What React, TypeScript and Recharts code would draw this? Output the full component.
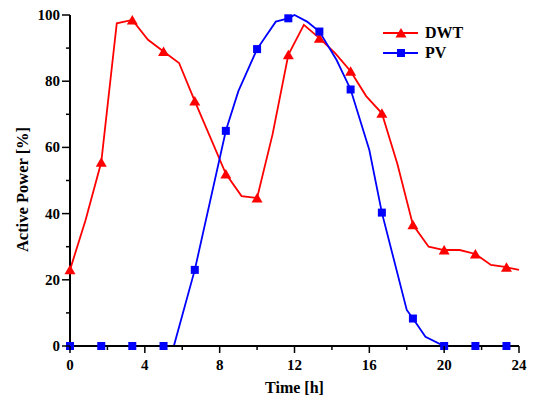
import React from 'react';
import { LineChart, Line, XAxis, YAxis, Legend } from 'recharts';

// DWT curve: hours and active power [%]
const dwtTime = [0, 0.83, 1.67, 2.5, 3.33, 4.17, 5, 5.83, 6.67, 7.5, 8.33, 9.17, 10, 10.83, 11.67, 12.5, 13.33, 14.17, 15, 15.83, 16.67, 17.5, 18.33, 19.17, 20, 20.83, 21.67, 22.5, 23.33, 24];
const dwtPower = [23, 38, 55.5, 97.5, 98.5, 92.5, 89, 85.5, 74, 63, 52, 45.3, 44.7, 64, 88, 97, 93, 88.5, 83, 75.5, 70.3, 55, 36.6, 30, 29, 29, 27.8, 24.5, 23.8, 23];

// PV curve
const pvTime = [0, 1.67, 3.33, 5, 5.55, 6.67, 8.33, 9, 10, 11, 11.67, 12, 12.67, 13.33, 14.25, 15, 16, 16.67, 18, 18.33, 19, 20, 21.67, 23.33, 24];
const pvPower = [0, 0, 0, 0, 0, 23, 65, 77, 89.7, 98, 99, 100, 98, 95, 86.4, 77.5, 59.2, 40.3, 10.9, 8.3, 2.8, 0, 0, 0, 0];

// hours where the symbols sit
const markerTimes = [0, 1.67, 3.33, 5, 6.67, 8.33, 10, 11.67, 13.33, 15, 16.67, 18.33, 20, 21.67, 23.33];

const xTicks = [0, 2, 4, 6, 8, 10, 12, 14, 16, 18, 20, 22, 24];
const yTicks = [0, 10, 20, 30, 40, 50, 60, 70, 80, 90, 100];

const dwtData = dwtTime.map((t, i) => ({ t, v: dwtPower[i] }));
const pvData = pvTime.map((t, i) => ({ t, v: pvPower[i] }));

const RED = '#ff0000';
const BLUE = '#0000ff';
const FONT = '"Liberation Serif", "Times New Roman", serif';

const triangle = (cx: number, cy: number) =>
  `M${cx},${cy - 5} L${cx + 5.5},${cy + 4.5} L${cx - 5.5},${cy + 4.5} Z`;

const TriangleDot = (props: any) => {
  const { cx, cy, payload, index } = props;
  if (!markerTimes.includes(payload.t)) return <g key={`dt${index}`} />;
  return <path key={`dt${index}`} d={triangle(cx, cy)} fill={RED} />;
};

const SquareDot = (props: any) => {
  const { cx, cy, payload, index } = props;
  if (!markerTimes.includes(payload.t)) return <g key={`ds${index}`} />;
  return <rect key={`ds${index}`} x={cx - 4} y={cy - 4} width={8} height={8} fill={BLUE} />;
};

const XTick = ({ x, y, payload }: any) => {
  const major = payload.value % 4 === 0;
  return (
    <g>
      <line x1={x} x2={x} y1={y} y2={y + (major ? 7 : 4)} stroke="#000" strokeWidth={1.5} />
      {major && (
        <text x={x} y={y + 24} textAnchor="middle" fontFamily={FONT} fontWeight="bold" fontSize={15} fill="#000">
          {payload.value}
        </text>
      )}
    </g>
  );
};

const YTick = ({ x, y, payload }: any) => {
  const major = payload.value % 20 === 0;
  return (
    <g>
      <line x1={x} x2={x - (major ? 8 : 4)} y1={y} y2={y} stroke="#000" strokeWidth={1.5} />
      {major && (
        <text x={x - 10} y={y + 5} textAnchor="end" fontFamily={FONT} fontWeight="bold" fontSize={15} fill="#000">
          {payload.value}
        </text>
      )}
    </g>
  );
};

const renderLegend = () => (
  <svg width={100} height={45}>
    <line x1={3} x2={38} y1={11} y2={11} stroke={RED} strokeWidth={1.8} />
    <path d={triangle(21, 11)} fill={RED} />
    <text x={45} y={16} fontFamily={FONT} fontWeight="bold" fontSize={16} fill="#000">DWT</text>
    <line x1={3} x2={38} y1={31} y2={31} stroke={BLUE} strokeWidth={1.8} />
    <rect x={17} y={27} width={8} height={8} fill={BLUE} />
    <text x={45} y={36} fontFamily={FONT} fontWeight="bold" fontSize={16} fill="#000">PV</text>
  </svg>
);

const App = () => {
  return (
    <div style={{ position: 'absolute', left: 0, top: 0, width: 537, height: 401, background: '#fff' }}>
      <LineChart width={537} height={401} margin={{ top: 15, right: 18, left: 10, bottom: 10 }}>
        <XAxis
          dataKey="t"
          type="number"
          domain={[0, 24]}
          ticks={xTicks}
          interval={0}
          height={45}
          tickSize={0}
          tickMargin={0}
          tickLine={false}
          tick={<XTick />}
          axisLine={{ stroke: '#000', strokeWidth: 2 }}
          label={{
            content: ({ viewBox }: any) => (
              <text x={viewBox.x + viewBox.width / 2} y={viewBox.y + 47} textAnchor="middle" fontFamily={FONT} fontWeight="bold" fontSize={16} fill="#000">
                Time [h]
              </text>
            ),
          }}
        />
        <YAxis
          type="number"
          domain={[0, 100]}
          ticks={yTicks}
          interval={0}
          width={60}
          tickSize={0}
          tickMargin={0}
          tickLine={false}
          tick={<YTick />}
          axisLine={{ stroke: '#000', strokeWidth: 2 }}
          label={{
            content: ({ viewBox }: any) => {
              const cx = 28;
              const cy = viewBox.y + viewBox.height / 2 + 9;
              return (
                <text x={cx} y={cy} transform={`rotate(-90 ${cx} ${cy})`} textAnchor="middle" fontFamily={FONT} fontWeight="bold" fontSize={16.5} fill="#000">
                  Active Power [%]
                </text>
              );
            },
          }}
        />
        <Legend
          layout="vertical"
          align="center"
          verticalAlign="middle"
          content={renderLegend}
          wrapperStyle={{ left: 380, top: 22, width: 100, height: 45 }}
        />
        <Line data={dwtData} dataKey="v" name="DWT" stroke={RED} strokeWidth={1.8} dot={TriangleDot} activeDot={false} isAnimationActive={false} />
        <Line data={pvData} dataKey="v" name="PV" stroke={BLUE} strokeWidth={1.8} dot={SquareDot} activeDot={false} isAnimationActive={false} />
      </LineChart>
    </div>
  );
};

export default App;
